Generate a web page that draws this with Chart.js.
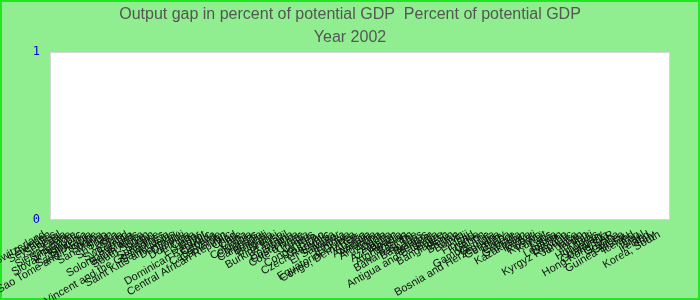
<!DOCTYPE html>
<html>
<head>
<meta charset="utf-8">
<script src="https://cdn.jsdelivr.net/npm/chart.js@4"></script>
<style>
  html, body { margin: 0; padding: 0; background: #90ee90; }
  #wrap { width: 700px; height: 300px; position: relative; }
</style>
</head>
<body>
<div id="wrap"><canvas id="chart"></canvas></div>
<script>
'use strict';

// ── Data ─────────────────────────────────────────────────────────────────────

const TITLE = ['Output gap in percent of potential GDP  Percent of potential GDP', 'Year 2002'];

const countries = [
  'Switzerland', 'Sweden', 'Seychelles', 'Senegal', 'Serbia', 'Sierra Leone',
  'Singapore', 'Slovak Republic', 'Slovenia', 'Saudi Arabia', 'Sao Tome and Principe', 'Samoa',
  'San Marino', 'Spain', 'Sri Lanka', 'Syria', 'Swaziland', 'Somalia',
  'Solomon Islands', 'South Africa', 'South Sudan', 'Sudan', 'Suriname', 'Saint Vincent and the Grenadines',
  'Saint Lucia', 'Saint Kitts and Nevis', 'Denmark', 'Djibouti', 'Dominica', 'Cuba',
  'Ecuador', 'Egypt', 'Dominican Republic', 'Canada', 'Cabo Verde', 'Cameroon',
  'Central African Republic', 'Chad', 'Chile', 'China', 'Colombia', 'Comoros',
  'Cambodia', 'Burundi', 'Bulgaria', 'Brunei', 'Burkina Faso', 'Brazil',
  'Botswana', 'Costa Rica', "Cote d'Ivoire", 'Croatia', 'Cyprus', 'Congo, Rep.',
  'Curacao', 'Czech Republic', 'Estonia', 'El Salvador', 'Eritrea', 'Ethiopia',
  'Equatorial Guinea', 'Congo, Dem. Rep.', 'Austria', 'Australia', 'Armenia', 'Argentina',
  'Angola', 'Algeria', 'Azerbaijan', 'Albania', 'Afghanistan', 'Bahrain',
  'Bahamas, The', 'Barbados', 'Belarus', 'Belgium', 'Antigua and Barbuda', 'Belize',
  'Bangladesh', 'Benin', 'Bhutan', 'Bolivia', 'Fiji', 'Finland',
  'France', 'Gabon', 'Gambia, The', 'Georgia', 'Bosnia and Herzegovina', 'Germany',
  'Ghana', 'Greece', 'Grenada', 'Kazakhstan', 'Kenya', 'Kiribati',
  'Kosovo', 'Kuwait', 'Laos', 'Latvia', 'Lebanon', 'Lesotho',
  'Kyrgyz Republic', 'Jamaica', 'Japan', 'Jordan', 'Haiti', 'Honduras',
  'Hungary', 'Guatemala', 'Hong Kong SAR', 'Guyana', 'Guinea', 'Guinea-Bissau',
  'Iceland', 'Iraq', 'Israel', 'Ireland', 'Italy', 'Korea, South',
];

// no values reported for 2002
const gap2002 = [
  null, null, null, null, null, null, null, null, null, null, null, null,
  null, null, null, null, null, null, null, null, null, null, null, null,
  null, null, null, null, null, null, null, null, null, null, null, null,
  null, null, null, null, null, null, null, null, null, null, null, null,
  null, null, null, null, null, null, null, null, null, null, null, null,
  null, null, null, null, null, null, null, null, null, null, null, null,
  null, null, null, null, null, null, null, null, null, null, null, null,
  null, null, null, null, null, null, null, null, null, null, null, null,
  null, null, null, null, null, null, null, null, null, null, null, null,
  null, null, null, null, null, null, null, null, null, null, null, null,
];

const yTicks = [0, 1];

// ── Background / plot area ───────────────────────────────────────────────────

const frame = {
  id: 'frame',
  beforeDraw(chart) {
    const { ctx, width, height, chartArea: a } = chart;
    ctx.save();
    ctx.fillStyle = '#90ee90';
    ctx.fillRect(0, 0, width, height);
    ctx.strokeStyle = '#22e622';
    ctx.lineWidth = 2;
    ctx.strokeRect(1, 1, width - 2, height - 2);
    ctx.fillStyle = '#ffffff';
    ctx.fillRect(a.left, a.top, a.right - a.left, a.bottom - a.top);
    ctx.strokeStyle = '#d4d4d4';
    ctx.lineWidth = 1;
    ctx.strokeRect(a.left + 0.5, a.top + 0.5, a.right - a.left - 1, a.bottom - a.top - 1);
    ctx.restore();
  },
};

// ── Chart ────────────────────────────────────────────────────────────────────

new Chart(document.getElementById('chart'), {
  type: 'bar',
  data: {
    labels: countries,
    datasets: [{
      label: 'Output gap',
      data: gap2002,
      backgroundColor: '#4572a7',
    }],
  },
  options: {
    animation: false,
    responsive: true,
    maintainAspectRatio: false,
    layout: { padding: 0 },
    scales: {
      x: {
        grid: { display: false, drawTicks: false },
        border: { display: false },
        ticks: {
          autoSkip: false,
          minRotation: 30,
          maxRotation: 30,
          padding: 8,
          labelOffset: -8,
          color: '#111',
          font: { family: 'Liberation Sans', size: 11 },
        },
        afterFit: s => {
          s.height = 80;
          s.paddingLeft = 0;   // let the long rotated labels run off the left edge
          s.paddingRight = 0;
        },
      },
      y: {
        min: 0,
        max: 1,
        afterBuildTicks: s => { s.ticks = yTicks.map(v => ({ value: v })); },
        grid: { display: false, drawTicks: false },
        border: { display: false },
        ticks: {
          color: '#0000cc',
          padding: 10,
          font: { family: 'DejaVu Sans Mono', size: 12 },
        },
        afterFit: s => { s.width = 50; },
      },
      // empty strip on the right so the title stays centred on the full width
      yRight: {
        position: 'right',
        grid: { display: false, drawTicks: false },
        border: { display: false },
        ticks: { display: false },
        afterFit: s => { s.width = 30; },
      },
    },
    plugins: {
      legend: { display: false },
      tooltip: { enabled: false },
      title: {
        display: true,
        text: TITLE,
        color: '#555',
        font: { family: 'Liberation Sans', size: 16, weight: 'normal', lineHeight: 1.44 },
        padding: { top: 3, bottom: 3 },
      },
    },
  },
  plugins: [frame],
});
</script>
</body>
</html>
